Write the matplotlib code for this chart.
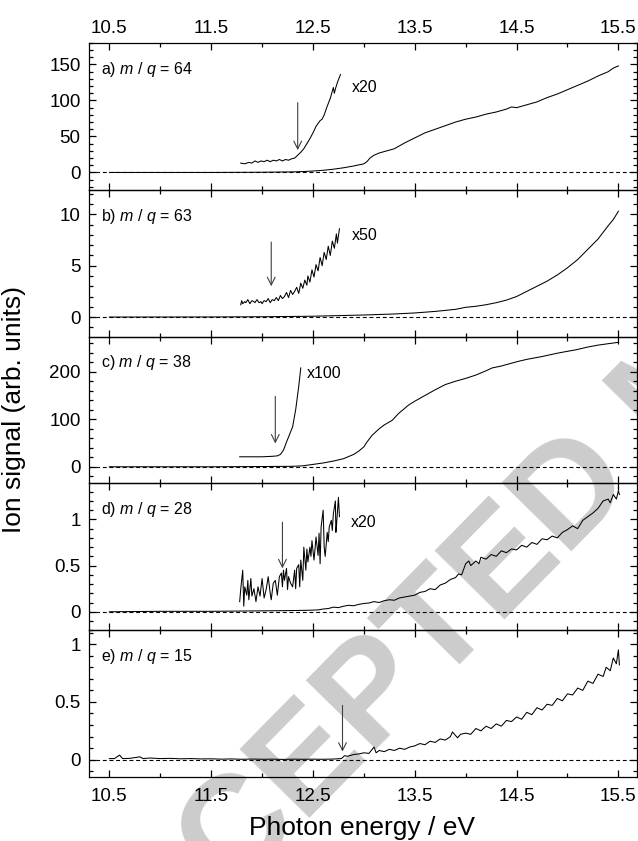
import matplotlib
matplotlib.use("Agg")
import matplotlib.pyplot as plt
from matplotlib import ticker

plt.rcParams['font.family'] = ['Liberation Sans', 'DejaVu Sans']
plt.rcParams['mathtext.fontset'] = 'custom'
plt.rcParams['mathtext.rm'] = 'Liberation Sans'
plt.rcParams['mathtext.it'] = 'Liberation Sans:italic'

# ---- data (photon energy in eV, ion signal arb. units)
# a) m/q = 64
a_E = [10.5, 11.0, 11.5, 12.0, 12.3, 12.4, 12.5, 12.6, 12.7, 12.8, 12.9, 13.0, 13.03, 13.06,
       13.1, 13.15, 13.2, 13.3, 13.35, 13.4, 13.5, 13.6, 13.7, 13.8, 13.9, 14.0, 14.1, 14.2,
       14.3, 14.4, 14.45, 14.5, 14.6, 14.7, 14.8, 14.9, 15.0, 15.1, 15.2, 15.3, 15.4, 15.45, 15.5]
a_sig = [0, 0, 0, 0.3, 0.8, 1.2, 2, 3, 4.5, 6.5, 9, 12, 15, 20,
         24, 27, 29, 33, 37, 41, 48, 55, 60, 65, 70, 74, 77, 81,
         84, 88, 91, 90, 94, 98, 104, 109, 115, 121, 127, 134, 140, 145, 148]
a_magE = [11.79, 11.83, 11.87, 11.90, 11.93, 11.96, 11.99, 12.02, 12.05, 12.08, 12.11, 12.14,
          12.17, 12.20, 12.23, 12.26, 12.29, 12.32, 12.35, 12.38, 12.41, 12.44, 12.47, 12.50,
          12.53, 12.55, 12.57, 12.59, 12.61, 12.64, 12.67, 12.69, 12.70, 12.71, 12.72, 12.74, 12.77]
a_mag = [13, 12, 14, 13, 16, 14, 16, 15, 17, 15, 17, 16,
         18, 16, 18, 17, 19, 20, 24, 28, 33, 40, 47, 55,
         64, 68, 72, 74, 80, 92, 103, 113, 118, 110, 116, 125, 136]

# b) m/q = 63
b_E = [10.5, 11.5, 12.0, 12.5, 13.0, 13.3, 13.5, 13.7, 13.9, 14.0, 14.1, 14.2, 14.3, 14.4,
       14.5, 14.6, 14.7, 14.8, 14.9, 15.0, 15.1, 15.2, 15.3, 15.4, 15.45, 15.5]
b_sig = [0, 0.01, 0.03, 0.08, 0.2, 0.3, 0.4, 0.55, 0.75, 0.95, 1.05, 1.2, 1.4, 1.65,
         2.0, 2.5, 3.0, 3.5, 4.1, 4.8, 5.6, 6.6, 7.6, 8.9, 9.5, 10.3]
b_magE = [11.79, 11.80, 11.81, 11.83, 11.84, 11.86, 11.88, 11.90, 11.92, 11.93, 11.95, 11.97,
          11.99, 12.00, 12.02, 12.04, 12.06, 12.08, 12.10, 12.12, 12.14, 12.16, 12.18, 12.20,
          12.22, 12.24, 12.26, 12.28, 12.30, 12.32, 12.34, 12.36, 12.38, 12.40, 12.42, 12.44,
          12.45, 12.47, 12.49, 12.51, 12.53, 12.55, 12.57, 12.59, 12.61, 12.63, 12.65, 12.67,
          12.69, 12.71, 12.73, 12.74, 12.76]
b_mag = [1.2, 1.6, 1.3, 1.5, 1.4, 1.7, 1.3, 1.6, 1.5, 1.4, 1.7, 1.4,
         1.5, 1.3, 1.6, 1.5, 1.8, 1.4, 1.7, 1.6, 1.9, 1.6, 2.1, 1.8,
         2.0, 2.4, 1.9, 2.6, 2.2, 2.5, 2.9, 2.3, 3.3, 2.8, 3.6, 3.1,
         4.0, 3.4, 4.6, 3.9, 5.1, 4.5, 5.8, 5.0, 6.3, 5.6, 6.9, 6.0,
         7.4, 6.7, 8.1, 7.2, 8.6]

# c) m/q = 38
c_E = [10.5, 11.5, 12.0, 12.3, 12.4, 12.5, 12.6, 12.7, 12.8, 12.9, 12.95, 13.0, 13.03, 13.08,
       13.15, 13.2, 13.28, 13.34, 13.44, 13.5, 13.6, 13.7, 13.8, 13.9, 14.0, 14.1, 14.2, 14.26,
       14.35, 14.45, 14.52, 14.6, 14.75, 14.9, 15.0, 15.08, 15.2, 15.3, 15.4, 15.47, 15.5]
c_sig = [0, 0, 0.5, 1, 2, 5, 8, 12, 17, 26, 33, 42, 52, 66,
         80, 88, 98, 112, 130, 138, 150, 162, 173, 180, 186, 193, 202, 208,
         212, 218, 222, 226, 232, 239, 243, 246, 252, 256, 259, 261, 262]
c_magE = [11.78, 11.9, 12.0, 12.1, 12.15, 12.18, 12.21, 12.24, 12.27, 12.30, 12.33, 12.36, 12.38]
c_mag = [21, 21, 21, 22, 23, 26, 35, 52, 68, 84, 120, 169, 208]

# d) m/q = 28
d_E = [10.5, 11.0, 11.5, 11.8, 12.0, 12.2, 12.4, 12.5, 12.55, 12.6, 12.65, 12.7, 12.75, 12.8,
       12.85, 12.9, 12.95, 13.0, 13.05, 13.1, 13.15, 13.2, 13.25, 13.3, 13.35, 13.4, 13.45,
       13.5, 13.55, 13.6, 13.65, 13.7, 13.75, 13.8, 13.85, 13.9, 13.93, 13.96, 14.0, 14.03,
       14.05, 14.1, 14.13, 14.15, 14.2, 14.25, 14.3, 14.35, 14.4, 14.45, 14.5, 14.55, 14.6,
       14.65, 14.7, 14.75, 14.8, 14.85, 14.9, 14.95, 15.0, 15.05, 15.1, 15.15, 15.2, 15.25,
       15.3, 15.35, 15.4, 15.42, 15.45, 15.48, 15.5, 15.51]
d_sig = [0, 0.005, 0.005, 0.008, 0.01, 0.012, 0.015, 0.018, 0.02, 0.03, 0.035, 0.05, 0.045, 0.06,
         0.07, 0.065, 0.08, 0.09, 0.095, 0.11, 0.10, 0.12, 0.13, 0.125, 0.15, 0.16, 0.17,
         0.18, 0.21, 0.22, 0.25, 0.24, 0.29, 0.31, 0.35, 0.37, 0.41, 0.40, 0.52, 0.55,
         0.5, 0.55, 0.52, 0.59, 0.57, 0.62, 0.6, 0.66, 0.64, 0.68, 0.67, 0.72, 0.7,
         0.75, 0.73, 0.79, 0.78, 0.82, 0.8, 0.86, 0.89, 0.93, 0.9, 0.99, 1.03, 1.07,
         1.12, 1.2, 1.22, 1.18, 1.27, 1.22, 1.31, 1.27]
d_magE = [11.78, 11.79, 11.81, 11.82, 11.83, 11.85, 11.86, 11.87, 11.89, 11.90, 11.92, 11.94,
          11.96, 11.98, 12.00, 12.02, 12.04, 12.06, 12.08, 12.09, 12.11, 12.13, 12.15, 12.17,
          12.19, 12.20, 12.21, 12.22, 12.24, 12.25, 12.26, 12.28, 12.30, 12.32, 12.33, 12.34,
          12.36, 12.37, 12.38, 12.40, 12.41, 12.43, 12.44, 12.45, 12.47, 12.48, 12.49, 12.51,
          12.52, 12.53, 12.55, 12.56, 12.57, 12.58, 12.60, 12.61, 12.62, 12.64, 12.65, 12.66,
          12.68, 12.69, 12.70, 12.72, 12.725, 12.73, 12.75, 12.76]
d_mag = [0.11, 0.24, 0.45, 0.06, 0.27, 0.18, 0.34, 0.13, 0.36, 0.17, 0.25, 0.11,
         0.27, 0.17, 0.36, 0.15, 0.24, 0.38, 0.20, 0.13, 0.31, 0.34, 0.18, 0.38,
         0.42, 0.27, 0.45, 0.34, 0.47, 0.24, 0.38, 0.31, 0.27, 0.45, 0.25, 0.47,
         0.51, 0.27, 0.56, 0.34, 0.70, 0.45, 0.68, 0.54, 0.70, 0.60, 0.77, 0.56,
         0.68, 0.81, 0.61, 0.85, 0.52, 0.92, 1.10, 0.70, 0.60, 0.86, 0.76, 0.92,
         0.99, 0.88, 1.06, 1.20, 0.86, 0.92, 1.24, 1.03]

# e) m/q = 15
e_E = [10.5, 10.55, 10.6, 10.63, 10.7, 10.8, 10.83, 10.9, 11.0, 11.1, 11.2, 11.3, 11.4, 11.5,
       11.6, 11.7, 11.8, 11.9, 12.0, 12.1, 12.2, 12.3, 12.4, 12.5, 12.6, 12.7, 12.78, 12.81,
       12.84, 12.9, 12.95, 13.0, 13.05, 13.1, 13.12, 13.15, 13.2, 13.25, 13.3, 13.35, 13.4,
       13.45, 13.5, 13.55, 13.6, 13.65, 13.7, 13.75, 13.8, 13.85, 13.87, 13.92, 13.95, 14.0,
       14.05, 14.1, 14.15, 14.2, 14.25, 14.3, 14.35, 14.4, 14.45, 14.5, 14.55, 14.6, 14.65,
       14.7, 14.75, 14.8, 14.85, 14.9, 14.95, 15.0, 15.05, 15.1, 15.15, 15.2, 15.25, 15.3,
       15.35, 15.38, 15.42, 15.45, 15.48, 15.5, 15.51]
e_sig = [0.01, 0.01, 0.04, 0.01, 0.012, 0.025, 0.01, 0.015, 0.01, 0.012, 0.008, 0.01, 0.007, 0.008,
         0.005, 0.007, 0.004, 0.006, 0.004, 0.005, 0.003, 0.005, 0.004, 0.005, 0.004, 0.006, 0.01, 0.035,
         0.03, 0.045, 0.05, 0.06, 0.055, 0.11, 0.06, 0.08, 0.07, 0.09, 0.08, 0.1, 0.09,
         0.11, 0.12, 0.14, 0.13, 0.16, 0.15, 0.18, 0.17, 0.2, 0.24, 0.19, 0.22, 0.23,
         0.22, 0.27, 0.25, 0.29, 0.27, 0.31, 0.29, 0.34, 0.33, 0.37, 0.35, 0.41, 0.39,
         0.45, 0.43, 0.48, 0.47, 0.53, 0.51, 0.57, 0.56, 0.62, 0.6, 0.68, 0.66, 0.74,
         0.72, 0.8, 0.77, 0.88, 0.83, 0.95, 0.82]

panels = [
    dict(E=a_E, s=a_sig, mE=a_magE, m=a_mag, ylim=(-24, 180), major=50, minor=10,
         label=r"a) $m$ / $q$ = 64", factor="x20", fpos=(12.88, 118), arrow=(12.35, 97, 31)),
    dict(E=b_E, s=b_sig, mE=b_magE, m=b_mag, ylim=(-1.9, 12.4), major=5, minor=1,
         label=r"b) $m$ / $q$ = 63", factor="x50", fpos=(12.88, 7.9), arrow=(12.09, 7.3, 3.0)),
    dict(E=c_E, s=c_sig, mE=c_magE, m=c_mag, ylim=(-35, 274), major=100, minor=20,
         label=r"c) $m$ / $q$ = 38", factor="x100", fpos=(12.44, 197), arrow=(12.13, 148, 49)),
    dict(E=d_E, s=d_sig, mE=d_magE, m=d_mag, ylim=(-0.2, 1.39), major=0.5, minor=0.1,
         label=r"d) $m$ / $q$ = 28", factor="x20", fpos=(12.87, 0.97), arrow=(12.2, 0.97, 0.47)),
    dict(E=e_E, s=e_sig, mE=None, m=None, ylim=(-0.15, 1.12), major=0.5, minor=0.1,
         label=r"e) $m$ / $q$ = 15", factor=None, fpos=None, arrow=(12.79, 0.47, 0.07)),
]

x_major = [10.5, 11.5, 12.5, 13.5, 14.5, 15.5]
x_minor = [11.0, 12.0, 13.0, 14.0, 15.0]

fig = plt.figure(figsize=(6.38, 8.41), dpi=100)
axes = fig.subplots(5, 1, sharex=True)
fig.subplots_adjust(left=0.1395, right=0.998, top=0.949, bottom=0.076, hspace=0)

# watermark, behind the (transparent) axes; starts below the page edge
fig.text(0.1345, -0.2434, "ACCEPTED MANUSCRIPT", rotation=45.5, rotation_mode='anchor',
         ha='left', va='baseline', fontsize=103, fontweight='bold', color='#cccccc',
         zorder=-1)

for i, (ax, p) in enumerate(zip(axes, panels)):
    ax.set_facecolor('none')
    ax.plot(p['E'], p['s'], color='k', lw=0.75)
    if p['mE'] is not None:
        ax.plot(p['mE'], p['m'], color='k', lw=0.75)
    ax.axhline(0, color='k', lw=0.8, ls=(0, (3.5, 2.5)))
    xa, ytop, ytip = p['arrow']
    ax.annotate('', xy=(xa, ytip), xytext=(xa, ytop),
                arrowprops=dict(arrowstyle='->', lw=0.8, color='0.25',
                                mutation_scale=14, shrinkA=0, shrinkB=0))
    ax.text(0.022, 0.82, p['label'], transform=ax.transAxes, fontsize=11.5, va='center')
    if p['factor']:
        ax.text(p['fpos'][0], p['fpos'][1], p['factor'], fontsize=11.5, va='center')

    ax.set_ylim(*p['ylim'])
    ax.set_xlim(10.3, 15.68)
    ax.yaxis.set_major_locator(ticker.MultipleLocator(p['major']))
    ax.yaxis.set_minor_locator(ticker.MultipleLocator(p['minor']))
    ax.yaxis.set_major_formatter(ticker.FormatStrFormatter('%g'))
    ax.xaxis.set_major_locator(ticker.FixedLocator(x_major))
    ax.xaxis.set_minor_locator(ticker.FixedLocator(x_minor))
    ax.tick_params(which='both', direction='in', top=True, right=True, width=0.9,
                   labelsize=13.5)
    ax.tick_params(which='major', length=5)
    ax.tick_params(which='minor', length=3)
    ax.tick_params(axis='y', pad=6)
    ax.tick_params(axis='x', labeltop=(i == 0), labelbottom=(i == 4))
    if i == 0:
        ax.tick_params(axis='x', pad=4.5)
    if i == 4:
        ax.tick_params(axis='x', pad=8)
    for sp in ax.spines.values():
        sp.set_linewidth(0.9)

fig.text(0.022, 0.5125, "Ion signal (arb. units)", rotation=90, ha='center', va='center',
         fontsize=19)
fig.text(0.568, 0.015, "Photon energy / eV", ha='center', va='center', fontsize=19)

fig.savefig("out.png", dpi=100)
